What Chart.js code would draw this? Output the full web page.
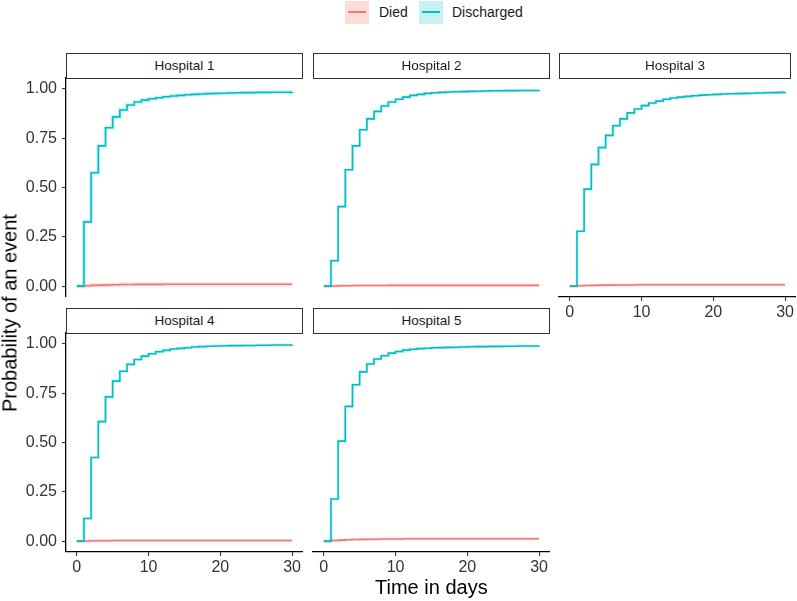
<!DOCTYPE html>
<html>
<head>
<meta charset="utf-8">
<script src="https://cdn.jsdelivr.net/npm/chart.js@4.4.0/dist/chart.umd.min.js"></script>
<style>
    body { margin: 0; background: #fff; font-family: "Liberation Sans", Arial, sans-serif; }
    #wrap { position: relative; width: 797px; height: 601px; overflow: hidden; }
    canvas { position: absolute; }
    .strip {
        position: absolute; box-sizing: border-box; height: 26px;
        border: 1.3px solid #333; background: #fff; color: #1a1a1a;
        font-size: 13.5px; line-height: 23px; text-align: center;
    }
    .key { position: absolute; top: 1px; width: 24px; height: 23px; }
    .key span { position: absolute; left: 3px; right: 3px; top: 10px; height: 1.6px; }
    .legtext { position: absolute; top: 4px; font-size: 14px; color: #1a1a1a; }
    .title { position: absolute; font-size: 20px; color: #000; white-space: nowrap; }
</style>
</head>
<body>
<div id="wrap">
    <div class="key" style="left:345px;background:rgba(248,118,109,0.25)"><span style="background:#F8766D"></span></div>
    <div class="legtext" style="left:379px">Died</div>
    <div class="key" style="left:419px;background:rgba(0,191,196,0.22)"><span style="background:#00BFC4"></span></div>
    <div class="legtext" style="left:452px">Discharged</div>
    <div class="title" style="left:375px;top:576px">Time in days</div>
    <div class="title" id="ytitle" style="left:10px;top:313px;transform:translate(-50%,-50%) rotate(-90deg)">Probability of an event</div>
</div>
<script>
    const days = [0, 1, 2, 3, 4, 5, 6, 7, 8, 9, 10, 11, 12, 13, 14, 15, 16, 17, 18, 19, 20, 21, 22, 23, 24, 25, 26, 27, 28, 29, 30];
    const xTicks = [0, 10, 20, 30];
    const yTicks = [0, 0.25, 0.5, 0.75, 1];
    const hospitals = ['Hospital 1', 'Hospital 2', 'Hospital 3', 'Hospital 4', 'Hospital 5'];

    const dischargedH1 = [0, 0.326, 0.575, 0.711, 0.803, 0.858, 0.893, 0.918, 0.933, 0.943, 0.950, 0.955, 0.960, 0.964, 0.967, 0.970, 0.972, 0.974, 0.976, 0.977, 0.978, 0.979, 0.980, 0.981, 0.981, 0.982, 0.982, 0.983, 0.983, 0.983, 0.984];
    const dischargedH2 = [0, 0.129, 0.403, 0.590, 0.711, 0.793, 0.848, 0.886, 0.913, 0.933, 0.947, 0.958, 0.967, 0.972, 0.977, 0.980, 0.982, 0.984, 0.985, 0.986, 0.987, 0.988, 0.989, 0.990, 0.990, 0.991, 0.991, 0.992, 0.992, 0.992, 0.993];
    const dischargedH3 = [0, 0.278, 0.492, 0.617, 0.702, 0.764, 0.813, 0.848, 0.878, 0.898, 0.915, 0.928, 0.938, 0.947, 0.954, 0.958, 0.962, 0.965, 0.968, 0.970, 0.972, 0.974, 0.975, 0.976, 0.977, 0.978, 0.979, 0.980, 0.981, 0.982, 0.983];
    const dischargedH4 = [0, 0.115, 0.424, 0.606, 0.731, 0.811, 0.861, 0.896, 0.921, 0.938, 0.950, 0.960, 0.967, 0.974, 0.977, 0.980, 0.984, 0.986, 0.988, 0.989, 0.990, 0.991, 0.991, 0.992, 0.992, 0.993, 0.993, 0.994, 0.994, 0.994, 0.995];
    const dischargedH5 = [0, 0.214, 0.507, 0.683, 0.793, 0.858, 0.898, 0.923, 0.940, 0.953, 0.961, 0.968, 0.973, 0.976, 0.978, 0.980, 0.981, 0.982, 0.983, 0.984, 0.985, 0.986, 0.986, 0.987, 0.987, 0.988, 0.988, 0.989, 0.989, 0.989, 0.990];

    const diedH1 = [0, 0.002, 0.004, 0.005, 0.006, 0.007, 0.008, 0.008, 0.009, 0.009, 0.009, 0.009, 0.010, 0.010, 0.010, 0.010, 0.010, 0.010, 0.010, 0.010, 0.010, 0.010, 0.010, 0.010, 0.010, 0.010, 0.010, 0.010, 0.010, 0.010, 0.010];
    const diedH2 = [0, 0.001, 0.002, 0.002, 0.003, 0.003, 0.003, 0.003, 0.003, 0.004, 0.004, 0.004, 0.004, 0.004, 0.004, 0.004, 0.004, 0.004, 0.004, 0.004, 0.004, 0.004, 0.004, 0.004, 0.004, 0.004, 0.004, 0.004, 0.004, 0.004, 0.004];
    const diedH3 = [0, 0.002, 0.003, 0.004, 0.005, 0.005, 0.006, 0.006, 0.006, 0.007, 0.007, 0.007, 0.007, 0.007, 0.007, 0.007, 0.007, 0.007, 0.007, 0.007, 0.007, 0.007, 0.007, 0.007, 0.007, 0.007, 0.007, 0.007, 0.007, 0.007, 0.007];
    const diedH4 = [0, 0.001, 0.002, 0.002, 0.002, 0.003, 0.003, 0.003, 0.003, 0.003, 0.003, 0.003, 0.003, 0.003, 0.003, 0.003, 0.003, 0.003, 0.003, 0.003, 0.003, 0.003, 0.003, 0.003, 0.003, 0.003, 0.003, 0.003, 0.003, 0.003, 0.003];
    const diedH5 = [0, 0.003, 0.005, 0.007, 0.008, 0.009, 0.010, 0.010, 0.011, 0.011, 0.011, 0.012, 0.012, 0.012, 0.012, 0.012, 0.012, 0.012, 0.012, 0.012, 0.012, 0.012, 0.012, 0.012, 0.012, 0.012, 0.012, 0.012, 0.012, 0.012, 0.012];

    const discharged = [dischargedH1, dischargedH2, dischargedH3, dischargedH4, dischargedH5];
    const died = [diedH1, diedH2, diedH3, diedH4, diedH5];

    // facet layout (facet_wrap style, 3 columns)
    const colLeft = [66, 313, 559];
    const rowTop = [78, 333];
    const panelW = 237, panelH = 219;
    const marginL = 60, marginB = 35, marginT = 16;
    const panels = [
        { col: 0, row: 0, showX: false, showY: true, stripW: 237 },
        { col: 1, row: 0, showX: false, showY: false, stripW: 237 },
        { col: 2, row: 0, showX: true, showY: false, stripW: 232 },
        { col: 0, row: 1, showX: true, showY: true, stripW: 237 },
        { col: 1, row: 1, showX: true, showY: false, stripW: 237 }
    ];

    const wrap = document.getElementById('wrap');
    const toPoints = vals => days.map((d, i) => ({ x: d, y: vals[i] }));
    const font = { family: '"Liberation Sans", Arial, sans-serif', size: 16 };

    panels.forEach((p, i) => {
        const strip = document.createElement('div');
        strip.className = 'strip';
        strip.style.left = colLeft[p.col] + 'px';
        strip.style.top = (rowTop[p.row] - 25) + 'px';
        strip.style.width = p.stripW + 'px';
        strip.textContent = hospitals[i];
        wrap.appendChild(strip);

        const canvas = document.createElement('canvas');
        canvas.width = marginL + panelW;
        canvas.height = marginT + panelH + marginB;
        canvas.style.left = (colLeft[p.col] - marginL) + 'px';
        canvas.style.top = (rowTop[p.row] - marginT) + 'px';
        wrap.insertBefore(canvas, wrap.firstChild);

        const ribbonW = i === 0 ? 4 : 3;
        const axisGrid = show => ({
            display: show, drawOnChartArea: false, drawTicks: true,
            tickLength: 4, color: '#333', lineWidth: 1.1
        });

        new Chart(canvas.getContext('2d'), {
            type: 'line',
            data: {
                datasets: [
                    { label: 'Discharged', data: toPoints(discharged[i]), borderColor: '#00BFC4', borderWidth: 1.6, stepped: true, pointRadius: 0, order: 0 },
                    { label: 'Died', data: toPoints(died[i]), borderColor: '#F8766D', borderWidth: 1.6, stepped: true, pointRadius: 0, order: 1 },
                    { label: 'Discharged band', data: toPoints(discharged[i]), borderColor: 'rgba(0,191,196,0.2)', borderWidth: ribbonW, stepped: true, pointRadius: 0, order: 2 },
                    { label: 'Died band', data: toPoints(died[i]), borderColor: 'rgba(248,118,109,0.22)', borderWidth: ribbonW, stepped: true, pointRadius: 0, order: 3 }
                ]
            },
            options: {
                responsive: false,
                animation: false,
                events: [],
                layout: { padding: { top: marginT, left: 0, right: 0, bottom: 0 } },
                plugins: { legend: { display: false }, tooltip: { enabled: false } },
                scales: {
                    x: {
                        type: 'linear', min: -1.5, max: 31.5,
                        afterBuildTicks: s => { s.ticks = xTicks.map(v => ({ value: v })); },
                        afterFit: s => { s.height = marginB; },
                        grid: axisGrid(p.showX),
                        border: { display: p.showX, color: '#000', width: 1.3 },
                        ticks: { display: p.showX, padding: 2, color: '#333', font: font, maxRotation: 0 }
                    },
                    y: {
                        type: 'linear', min: -0.055, max: 1.055,
                        afterBuildTicks: s => { s.ticks = yTicks.map(v => ({ value: v })); },
                        afterFit: s => { s.width = marginL; },
                        grid: axisGrid(p.showY),
                        border: { display: p.showY, color: '#000', width: 1.3 },
                        ticks: { display: p.showY, padding: 5, color: '#333', font: font, callback: v => v.toFixed(2) }
                    }
                }
            }
        });
    });
</script>
</body>
</html>
